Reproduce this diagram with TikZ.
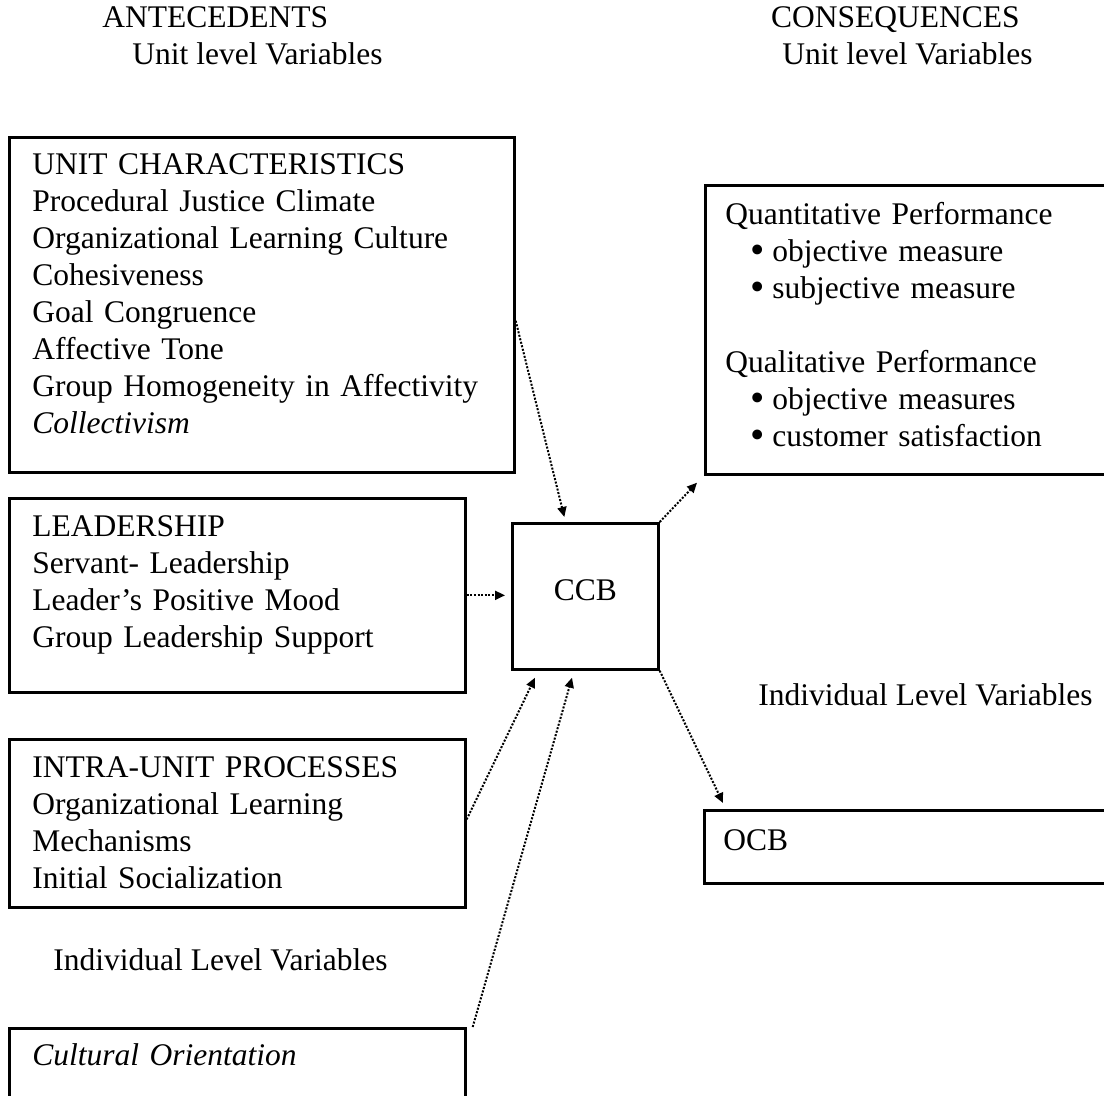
\documentclass[tikz,border=0pt]{standalone}
\usepackage{fontspec}
\setmainfont{Liberation Serif}
\usetikzlibrary{arrows.meta}
\newcommand{\bigbul}{\hspace*{12.5pt}\makebox[11pt][l]{\raisebox{-0.6pt}{\scalebox{1.3}{\textbullet}}}}
\begin{document}
\begin{tikzpicture}[x=0.5pt,y=-0.5pt,
  font=\fontsize{15.75}{18.5}\selectfont,
  box/.style={draw, line width=1.35pt, rectangle, inner sep=0pt, anchor=north west},
  txt/.style={anchor=base west, inner sep=0pt, align=left, text width=#1},
  txt/.default=260pt,
  lbl/.style={inner sep=0pt},
  conn/.style={line width=1pt, dash pattern=on 1pt off 0.8pt,
    -{Triangle[length=5pt,width=4.5pt]}}]
\useasboundingbox (0,0) rectangle (1104,1096);
\clip (0,0) rectangle (1104,1096);

% headings
\node[lbl, anchor=base west] (hant) at (102,28) {ANTECEDENTS};
\node[lbl, anchor=base west] (hulv) at (132,65) {Unit level Variables};
\node[lbl, anchor=base east] (hcon) at (1020,28) {CONSEQUENCES};
\node[lbl, anchor=base east] (hurv) at (1033,65) {Unit level Variables};
\node[lbl, anchor=base west] (hilv) at (53,970) {Individual Level Variables};
\node[lbl, anchor=base west] (hirv) at (758,705) {Individual Level Variables};

% boxes
\node[box, minimum width=252.5pt, minimum height=167.5pt] (b1) at (8,136) {};
\node[box, minimum width=228pt, minimum height=97pt] (b2) at (8,497) {};
\node[box, minimum width=228pt, minimum height=84pt] (b3) at (8,738) {};
\node[box, minimum width=228pt, minimum height=100pt] (b4) at (8,1027) {};
\node[box, minimum width=208pt, minimum height=144.5pt] (rb) at (704,184) {};
\node[box, minimum width=210pt, minimum height=36.5pt] (ocb) at (703,809) {};
\node[box, minimum width=73pt, minimum height=73pt] (ccb) at (511,522) {\raisebox{6pt}{CCB}};

% box texts
\node[txt] (t1) at (32,175) {UNIT CHARACTERISTICS\\
Procedural Justice Climate\\
Organizational Learning Culture\\
Cohesiveness\\
Goal Congruence\\
Affective Tone\\
Group Homogeneity in Affectivity\\
\textit{Collectivism}};
\node[txt] (t2) at (32,537) {LEADERSHIP\\
Servant- Leadership\\
Leader’s Positive Mood\\
Group Leadership Support};
\node[txt] (t3) at (32,777) {INTRA-UNIT PROCESSES\\
Organizational Learning\\
Mechanisms\\
Initial Socialization};
\node[txt] (t4) at (32,1065) {\textit{Cultural Orientation}};
\node[txt=190pt] (tr) at (725,225) {Quantitative Performance\\
\bigbul objective measure\\
\bigbul subjective measure\\[18.5pt]
Qualitative Performance\\
\bigbul objective measures\\
\bigbul customer satisfaction};
\node[txt=100pt] (tocb) at (723,850) {OCB};

% connectors
\draw[conn] ([yshift=-8pt]b1.east) -- ([xshift=-10.5pt,yshift=2.5pt]ccb.north);
\draw[conn] (b2.east) -- ([xshift=-3pt]b2.east -| ccb.west);
\draw[conn] ([yshift=2pt]b3.east) -- ([xshift=12pt,yshift=-3.5pt]ccb.south west);
\draw[conn] ([xshift=3pt]b4.north east) -- ([xshift=30.5pt,yshift=-3.5pt]ccb.south west);
\draw[conn] (ccb.north east) -- ([xshift=-3.5pt,yshift=-3.5pt]rb.south west);
\draw[conn] (ccb.south east) -- ([xshift=10pt,yshift=3pt]ocb.north west);
\end{tikzpicture}
\end{document}
